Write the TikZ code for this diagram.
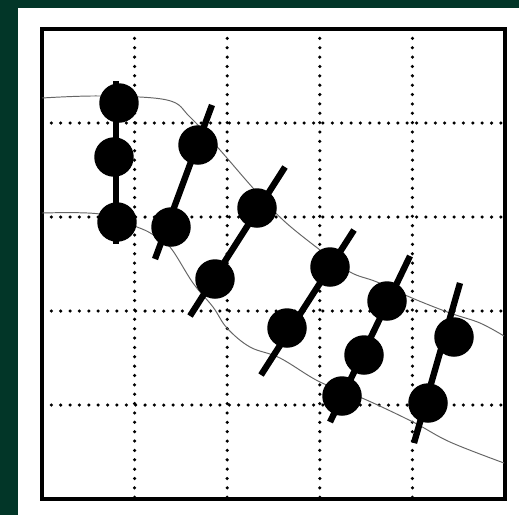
\documentclass[tikz,border=0pt]{standalone}
\definecolor{slidegreen}{RGB}{2,54,40}
\tikzset{
  gridline/.style={line width=2pt, line cap=round, dash pattern=on 0pt off 5.33pt},
  frame/.style={line width=2pt},
  curve/.style={gray!80!black, line width=0.55pt},
  stick/.style={line width=3.6pt},
  bead/.style={circle, fill=black, minimum size=0.79cm, inner sep=0pt}
}
\begin{document}
\begin{tikzpicture}[x=0.02cm, y=-0.02cm]
        % slide background and white sheet
        \fill[slidegreen] (0,0) rectangle (519,515);
        \fill[white] (18,8) rectangle (519,515);

        % dotted grid
        \foreach \gx in {134.6,227.2,319.8,412.4}
          \draw[gridline] (\gx,29) -- (\gx,499);
        \foreach \gy in {123,217,311,405}
          \draw[gridline] (42,\gy) -- (505,\gy);
        \draw[frame] (42,29) rectangle (505,499);

        % the two thin curves
        \draw[curve] plot[smooth, tension=0.6] coordinates {(42,98) (100,96) (167,100) (190,117) (220,150) (253,188) (283,220) (320,250) (350,272) (377,282) (412,298) (450,313) (480,323) (504,336)};
        \draw[curve] plot[smooth, tension=0.6] coordinates {(42,213) (100,214) (137,227) (152,234) (170,247) (193,283) (213,307) (227,328) (250,347) (280,358) (320,382) (362,398) (413,422) (450,442) (504,463)};

        % stick ends
        \coordinate (s1t) at (116,81);  \coordinate (s1b) at (116,244);
        \coordinate (s2t) at (212,105); \coordinate (s2b) at (155,259);
        \coordinate (s3t) at (285,167); \coordinate (s3b) at (190,316);
        \coordinate (s4t) at (354,230); \coordinate (s4b) at (261,375);
        \coordinate (s5t) at (410,256); \coordinate (s5b) at (330,422);
        \coordinate (s6t) at (460,283); \coordinate (s6b) at (414,443);
        \foreach \s in {1,...,6}
          \draw[stick] (s\s t) -- (s\s b);

        % beads
        \node[bead] (b1a) at (119,103) {};
        \node[bead] (b1b) at (114,157) {};
        \node[bead] (b1c) at (117,222) {};
        \node[bead] (b2a) at (198,145) {};
        \node[bead] (b2b) at (171,227) {};
        \node[bead] (b3a) at (257,208) {};
        \node[bead] (b3b) at (215,279) {};
        \node[bead] (b4a) at (330,267) {};
        \node[bead] (b4b) at (287,328) {};
        \node[bead] (b5a) at (387,301) {};
        \node[bead] (b5b) at (364,355) {};
        \node[bead] (b5c) at (342,396) {};
        \node[bead] (b6a) at (454,337) {};
        \node[bead] (b6b) at (428,403) {};
\end{tikzpicture}
\end{document}
